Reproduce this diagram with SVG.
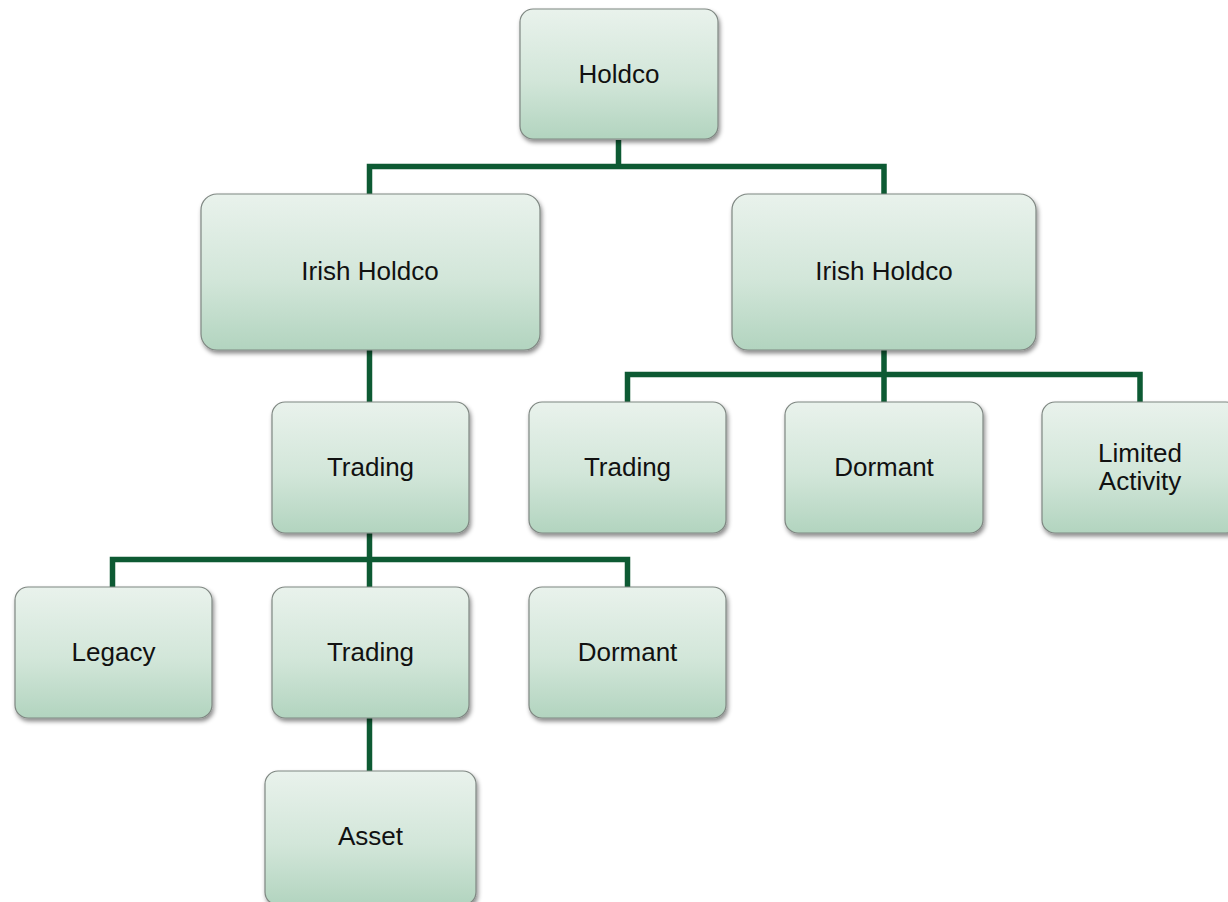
<svg xmlns="http://www.w3.org/2000/svg" width="1228" height="902" viewBox="0 0 1228 902">
  <defs>
    <linearGradient id="boxFill" x1="0" y1="0" x2="0" y2="1">
      <stop offset="0" stop-color="#e9f2ec"/>
      <stop offset="0.55" stop-color="#d2e6d9"/>
      <stop offset="1" stop-color="#b2d4bf"/>
    </linearGradient>
    <filter id="shadow" x="-10%" y="-10%" width="125%" height="130%">
      <feDropShadow dx="1.5" dy="3" stdDeviation="2.2" flood-color="#000" flood-opacity="0.45"/>
    </filter>
    <style>
      .box { fill: url(#boxFill); stroke: #7f8782; stroke-width: 1.2; filter: url(#shadow); }
      .label { font-family: "Liberation Sans", Arial, sans-serif; font-size: 26px; fill: #111; text-anchor: middle; }
      .link { fill: none; stroke: #0d5a33; stroke-width: 5.5; stroke-linejoin: miter; stroke-linecap: butt; }
    </style>
  </defs>
  <rect width="1228" height="902" fill="#ffffff"/>

  <!-- connectors -->
  <g id="connectors">
    <path class="link" d="M618.5 140 V166.5 M369.5 194 V166.5 H884 V194"/>
    <path class="link" d="M369.5 350 V402"/>
    <path class="link" d="M884 350 V402 M627.5 402 V374.5 H1140 V402"/>
    <path class="link" d="M369.5 533 V587 M112.5 587 V559.5 H627.5 V587"/>
    <path class="link" d="M369.5 718 V771"/>
  </g>

  <!-- nodes -->
  <g id="holdco">
    <rect class="box" x="520" y="9" width="198" height="130" rx="13"/>
    <text class="label" x="619" y="83">Holdco</text>
  </g>
  <g id="irish-holdco-left">
    <rect class="box" x="201" y="194" width="339" height="156" rx="16"/>
    <text class="label" x="370" y="280">Irish Holdco</text>
  </g>
  <g id="irish-holdco-right">
    <rect class="box" x="732" y="194" width="304" height="156" rx="16"/>
    <text class="label" x="884" y="280">Irish Holdco</text>
  </g>
  <g id="trading-1">
    <rect class="box" x="272" y="402" width="197" height="131" rx="13"/>
    <text class="label" x="370.5" y="476">Trading</text>
  </g>
  <g id="trading-right">
    <rect class="box" x="529" y="402" width="197" height="131" rx="13"/>
    <text class="label" x="627.5" y="476">Trading</text>
  </g>
  <g id="dormant-right">
    <rect class="box" x="785" y="402" width="198" height="131" rx="13"/>
    <text class="label" x="884" y="476">Dormant</text>
  </g>
  <g id="limited-activity">
    <rect class="box" x="1042" y="402" width="197" height="131" rx="13"/>
    <text class="label" x="1140" y="462">Limited</text>
    <text class="label" x="1140" y="490">Activity</text>
  </g>
  <g id="legacy">
    <rect class="box" x="15" y="587" width="197" height="131" rx="13"/>
    <text class="label" x="113.5" y="661">Legacy</text>
  </g>
  <g id="trading-2">
    <rect class="box" x="272" y="587" width="197" height="131" rx="13"/>
    <text class="label" x="370.5" y="661">Trading</text>
  </g>
  <g id="dormant-left">
    <rect class="box" x="529" y="587" width="197" height="131" rx="13"/>
    <text class="label" x="627.5" y="661">Dormant</text>
  </g>
  <g id="asset">
    <rect class="box" x="265" y="771" width="211" height="134" rx="13"/>
    <text class="label" x="370.5" y="845">Asset</text>
  </g>
</svg>
